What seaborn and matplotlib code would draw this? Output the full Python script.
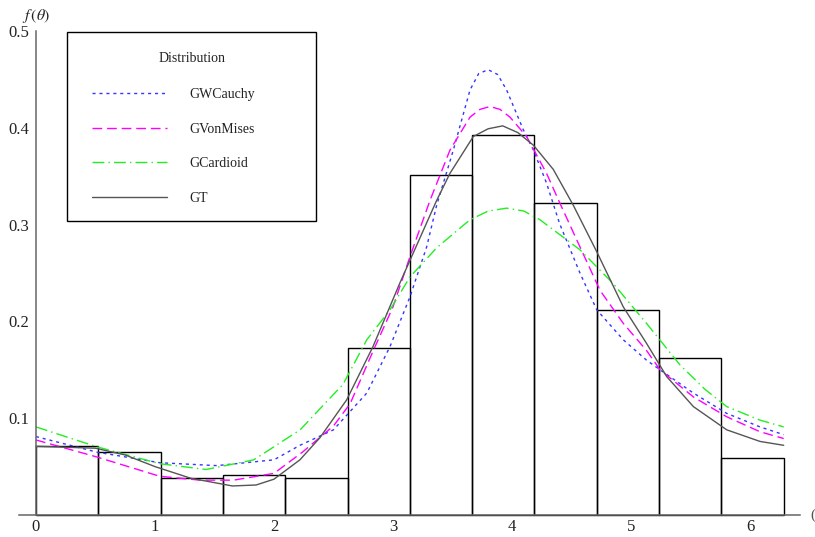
import numpy as np
import pandas as pd
import matplotlib
matplotlib.use("Agg")
import matplotlib.pyplot as plt
import seaborn as sns
from matplotlib.patches import Rectangle

# ---- data ----
bin_heights = [0.071, 0.065, 0.038, 0.041, 0.038, 0.1725, 0.351, 0.393, 0.322, 0.212, 0.162, 0.059]
n_bins = 12

cauchy_x = [0, 0.51, 1.04, 1.52, 2.0, 2.218, 2.5, 2.78, 2.975, 3.143, 3.283, 3.367, 3.507, 3.647, 3.72, 3.80,
            3.88, 3.955, 4.095, 4.18, 4.29, 4.40, 4.571, 4.712, 4.935, 5.13, 5.244, 5.524, 5.804, 6.084, 6.283]
cauchy_y = [0.081, 0.065, 0.054, 0.051, 0.057, 0.072, 0.088, 0.126, 0.174, 0.2255, 0.277, 0.320, 0.377, 0.439, 0.456, 0.460,
            0.455, 0.439, 0.398, 0.377, 0.343, 0.301, 0.250, 0.212, 0.181, 0.160, 0.150, 0.126, 0.105, 0.091, 0.083]

vonmises_x = [0, 0.51, 1.04, 1.38, 1.66, 2.0, 2.24, 2.5, 2.64, 2.835, 3.0, 3.143, 3.311, 3.479, 3.647, 3.73, 3.815,
              3.90, 3.983, 4.123, 4.29, 4.403, 4.571, 4.74, 4.935, 5.13, 5.244, 5.524, 5.804, 6.084, 6.283]
vonmises_y = [0.0775, 0.060, 0.040, 0.036, 0.036, 0.043, 0.065, 0.092, 0.115, 0.170, 0.215, 0.267, 0.325, 0.377, 0.411, 0.419, 0.422,
              0.419, 0.411, 0.391, 0.353, 0.322, 0.277, 0.232, 0.198, 0.170, 0.150, 0.122, 0.1015, 0.086, 0.079]

cardioid_x = [0, 0.51, 1.04, 1.43, 1.83, 2.22, 2.58, 2.78, 2.975, 3.143, 3.367, 3.647, 3.80, 3.955, 4.10, 4.235, 4.571,
              4.851, 5.13, 5.412, 5.62, 5.804, 6.084, 6.283]
cardioid_y = [0.091, 0.0705, 0.053, 0.047, 0.057, 0.088, 0.135, 0.181, 0.212, 0.246, 0.276, 0.305, 0.314, 0.317, 0.314, 0.305, 0.274,
              0.239, 0.198, 0.155, 0.130, 0.112, 0.098, 0.091]

gt_x = [0, 0.25, 0.5, 0.75, 1.0, 1.3, 1.65, 1.85, 2.0, 2.218, 2.387, 2.611, 2.832, 3.059, 3.367, 3.479, 3.675, 3.80,
        3.922, 4.05, 4.18, 4.347, 4.515, 4.712, 4.935, 5.132, 5.30, 5.524, 5.804, 6.084, 6.283]
gt_y = [0.071, 0.070, 0.069, 0.062, 0.050, 0.038, 0.030, 0.031, 0.037, 0.057, 0.080, 0.119, 0.174, 0.240, 0.325, 0.353, 0.391, 0.399,
        0.402, 0.395, 0.382, 0.357, 0.320, 0.272, 0.215, 0.177, 0.143, 0.112, 0.088, 0.076, 0.072]

series_names = ["GWCauchy", "GVonMises", "GCardioid", "GT"]
x_ticks = [0, 1, 2, 3, 4, 5, 6]
y_ticks = [0.1, 0.2, 0.3, 0.4, 0.5]

# ---- styling ----
sns.set_theme(style="white")
plt.rcParams["font.family"] = ["Liberation Serif", "DejaVu Serif"]
plt.rcParams["mathtext.fontset"] = "stix"

W, H = 815, 537
fig = plt.figure(figsize=(W / 100, H / 100), dpi=100)
fig.patch.set_facecolor("white")
ax = fig.add_axes([19.3 / W, 22 / H, 780.7 / W, 484 / H])
ax.set_facecolor("white")

two_pi = 2 * np.pi
width = two_pi / n_bins
centers = [(i + 0.5) * width for i in range(n_bins)]
hist_df = pd.DataFrame({"theta": centers, "w": bin_heights})
sns.histplot(data=hist_df, x="theta", weights="w", bins=n_bins, binrange=(0, two_pi),
             fill=False, color="black", linewidth=1.0, ax=ax, stat="count", clip_on=False)

specs = [
    (cauchy_x, cauchy_y, "#3535ff", (2.2, 2.8)),
    (vonmises_x, vonmises_y, "#ff00ff", (7.0, 3.5)),
    (cardioid_x, cardioid_y, "#22ee22", (8.5, 3.0, 1.0, 3.0)),
    (gt_x, gt_y, "#555555", None),
]
for (xs, ys, col, dash), name in zip(specs, series_names):
    sns.lineplot(x=xs, y=ys, color=col, linewidth=1.0, sort=False, ax=ax, label=name)
    line = ax.lines[-1]
    if dash is not None:
        line.set_dashes(dash)
    line.set_clip_on(False)

ax.set_xlim(-0.14, 6.42)
ax.set_ylim(0, 0.5)
ax.set_xticks(x_ticks)
ax.set_xticklabels([str(t) for t in x_ticks])
ax.set_yticks(y_ticks)
ax.set_yticklabels([f"{t:.1f}" for t in y_ticks])
ax.set_xlabel("")
ax.set_ylabel("")

for s in ["top", "right"]:
    ax.spines[s].set_visible(False)
ax.spines["left"].set_position(("data", 0))
ax.spines["left"].set_bounds(0, 0.5)
for s in ["left", "bottom"]:
    ax.spines[s].set_color("#666666")
    ax.spines[s].set_linewidth(1.1)
ax.tick_params(axis="both", direction="in", length=5, width=0.9, color="#444444",
               labelsize=12, labelcolor="#222222")
ax.tick_params(axis="x", pad=3)
ax.tick_params(axis="y", pad=5)

ax.text(0, 0.516, r"$f\,(\theta)$", ha="center", va="center", fontsize=11.5,
        color="#222222", clip_on=False)
fig.text(810 / W, 1 - 515 / H, "(", ha="left", va="center", fontsize=11, color="#555555")

# legend
leg = ax.legend(loc="upper left", bbox_to_anchor=(92 / W, 1 - 88 / H), bbox_transform=fig.transFigure,
                frameon=False, handlelength=5.4, handletextpad=1.6, labelspacing=1.55,
                fontsize=10, borderpad=0, borderaxespad=0)
for t in leg.get_texts():
    t.set_color("#222222")
fig.patches.append(Rectangle((67 / W, 1 - 221 / H), (316 - 67) / W, (221 - 32) / H,
                             transform=fig.transFigure, fill=False, edgecolor="black", linewidth=1.0))
fig.text(192 / W, 1 - 58 / H, "Distribution", ha="center", va="center", fontsize=10, color="#222222")

fig.savefig("out.png", dpi=100, facecolor="white")
